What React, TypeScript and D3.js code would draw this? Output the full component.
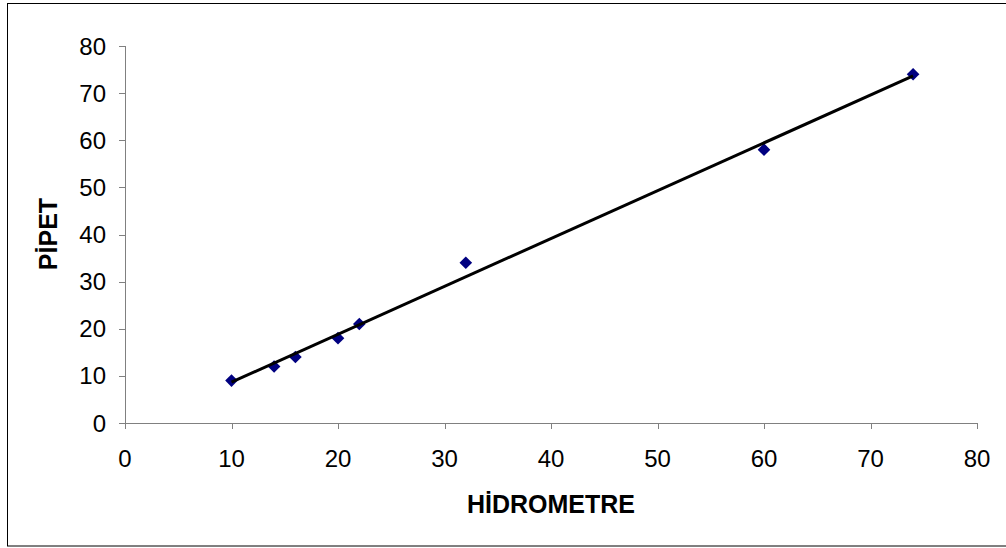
import React from "react";
import * as d3 from "d3";

const hidrometre = [10, 14, 16, 20, 22, 32, 60, 74];
const pipet = [9, 12, 14, 18, 21, 34, 58, 74];
const xTicks = [0, 10, 20, 30, 40, 50, 60, 70, 80];
const yTicks = [0, 10, 20, 30, 40, 50, 60, 70, 80];
const xTitle = "HİDROMETRE";
const yTitle = "PİPET";

export default function App() {
  const W = 1006, H = 548;
  const x = d3.scaleLinear().domain([0, 80]).range([125, 977]);
  const y = d3.scaleLinear().domain([0, 80]).range([423, 46]);

  const n = hidrometre.length;
  const mx = d3.mean(hidrometre) as number;
  const my = d3.mean(pipet) as number;
  let sxy = 0, sxx = 0;
  for (let i = 0; i < n; i++) {
    sxy += (hidrometre[i] - mx) * (pipet[i] - my);
    sxx += (hidrometre[i] - mx) ** 2;
  }
  const slope = sxy / sxx;
  const intercept = my - slope * mx;
  const x0 = d3.min(hidrometre) as number;
  const x1 = d3.max(hidrometre) as number;
  const line = d3.line<number>().x((d) => x(d)).y((d) => y(intercept + slope * d));
  const diamond = d3.symbol().type(d3.symbolSquare).size(80)();

  const font = "'Liberation Sans', Arial, sans-serif";
  const axisColor = "#808080";

  return (
    <svg width={W} height={H} style={{ position: "absolute", left: 0, top: 0 }} fontFamily={font}>
      <rect x={0} y={0} width={W} height={H} fill="#fff" />
      <rect x={7.5} y={3.5} width={1010} height={542.5} fill="#fff" stroke="#000" strokeWidth={1} />
      {/* axes */}
      <line x1={x(0)} x2={x(80)} y1={y(0) + 0.5} y2={y(0) + 0.5} stroke={axisColor} strokeWidth={1} />
      <line x1={x(0) + 0.5} x2={x(0) + 0.5} y1={y(0)} y2={y(80)} stroke={axisColor} strokeWidth={1} />
      {xTicks.map((t) => (
        <g key={"x" + t}>
          <line x1={Math.round(x(t)) + 0.5} x2={Math.round(x(t)) + 0.5} y1={y(0)} y2={y(0) + 6} stroke={axisColor} />
          <text x={x(t)} y={467} textAnchor="middle" fontSize={24} fill="#000">{t}</text>
        </g>
      ))}
      {yTicks.map((t) => (
        <g key={"y" + t}>
          <line x1={x(0) - 6} x2={x(0)} y1={Math.round(y(t)) + 0.5} y2={Math.round(y(t)) + 0.5} stroke={axisColor} />
          <text x={106} y={y(t) + 8.5} textAnchor="end" fontSize={24} fill="#000">{t}</text>
        </g>
      ))}
      {/* markers */}
      {hidrometre.map((h, i) => (
        <path key={"p" + i} d={diamond as string} transform={`translate(${x(h)},${y(pipet[i])}) rotate(45)`} fill="#000080" />
      ))}
      {/* trendline */}
      <path d={line([x0, x1]) as string} stroke="#000" strokeWidth={3} fill="none" />
      {/* titles */}
      <text x={551} y={513} textAnchor="middle" fontSize={25} fontWeight="bold" fill="#000">{xTitle}</text>
      <text transform={`translate(57,234) rotate(-90)`} textAnchor="middle" fontSize={25} fontWeight="bold" fill="#000">{yTitle}</text>
    </svg>
  );
}
